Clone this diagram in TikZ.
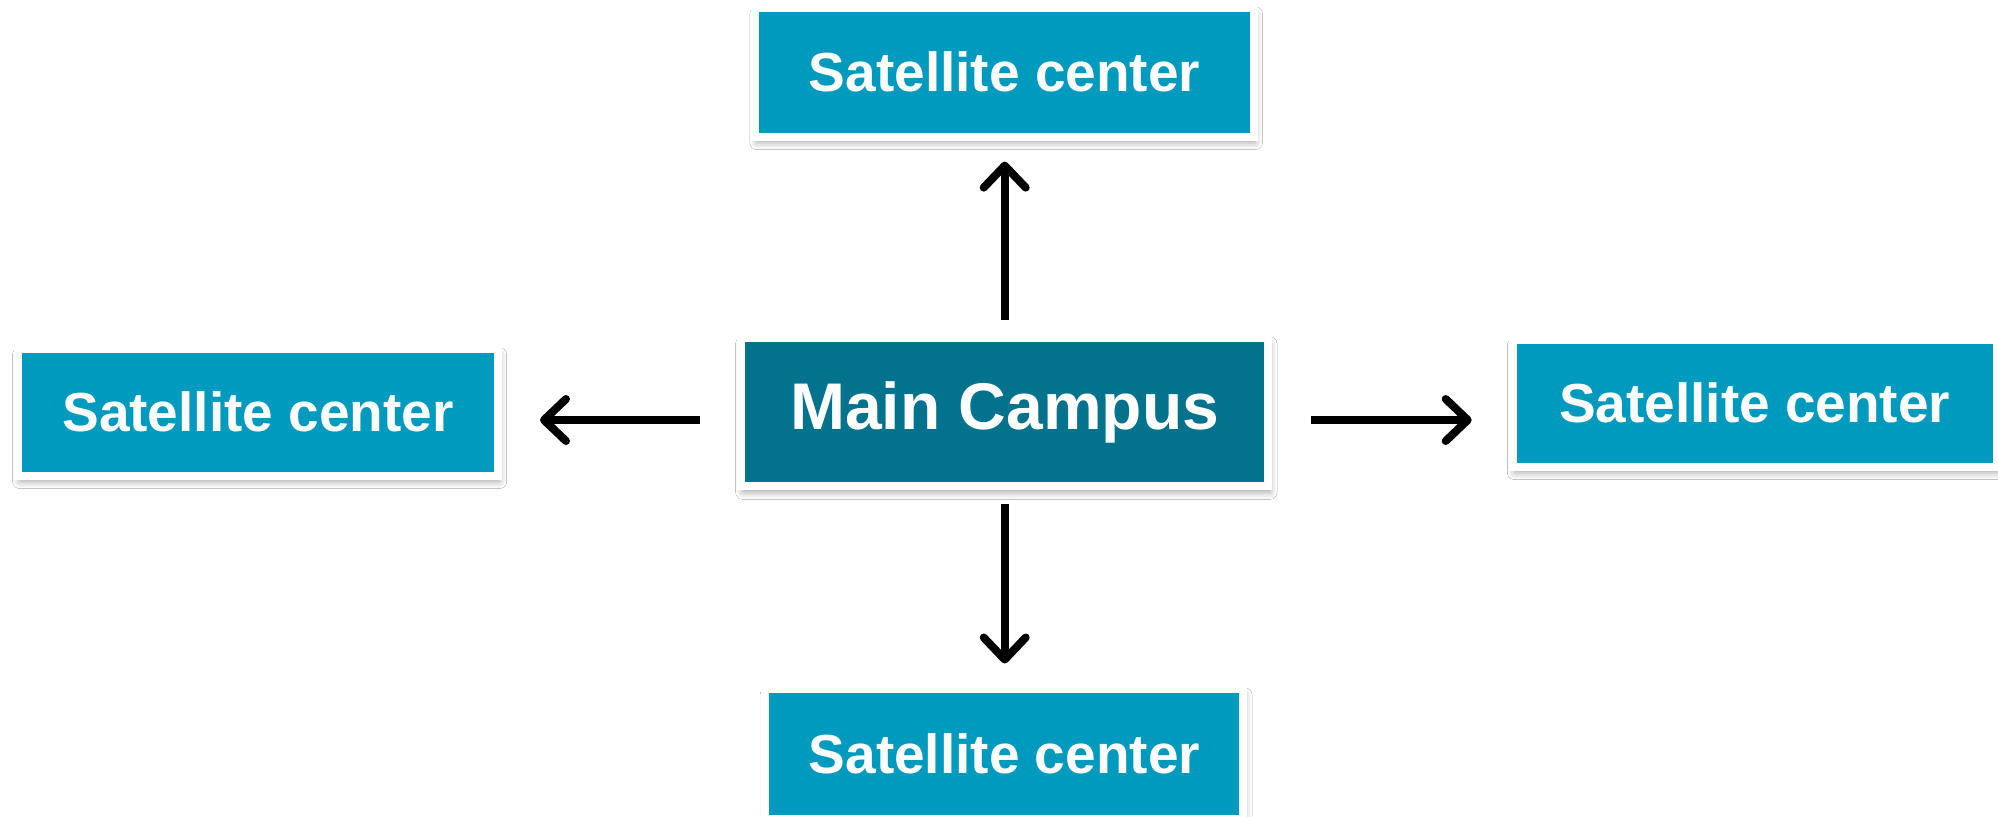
\documentclass[tikz,border=0pt]{standalone}
\usepackage{fontspec}
\setmainfont{Liberation Sans}
\usetikzlibrary{arrows.meta,shadows.blur}
\definecolor{satblue}{HTML}{009ABE}
\definecolor{mainteal}{HTML}{02728D}
\tikzset{
  box/.style={draw=white, line width=4pt, inner sep=0pt, text=white,
    font=\bfseries\fontsize{27.5pt}{30pt}\selectfont,
    blur shadow={shadow xshift=0.8pt, shadow yshift=-3pt, shadow blur radius=3.5pt, shadow opacity=35}},
  satbox/.style={box, fill=satblue},
  mainbox/.style={box, fill=mainteal, font=\bfseries\fontsize{33pt}{36pt}\selectfont},
  arr/.style={line width=4pt, -{Straight Barb[length=11pt, width=21pt, line cap=round, round]}}
}
\begin{document}
\begin{tikzpicture}[x=0.5pt, y=-0.5pt]
\useasboundingbox (0,0) rectangle (1998,816);
\fill[white] (0,0) rectangle (1998,816);
\node[satbox, minimum width=249.3pt, minimum height=64.4pt] (top) at (1004.5,72.2) {Satellite center};
\node[mainbox, minimum width=263.7pt, minimum height=74.3pt] (main) at (1004.7,412) {Main Campus};
\node[satbox, minimum width=240pt, minimum height=63.5pt] (left) at (258,412) {Satellite center};
\node[satbox, minimum width=242pt, minimum height=63.5pt] (right) at (1754.7,403) {Satellite center};
\node[satbox, minimum width=239pt, minimum height=64.9pt] (bottom) at (1004.4,753.8) {Satellite center};
\draw[arr, shorten <=6.9pt, shorten >=10.5pt] (main.north) -- (main.north |- top.south);
\draw[arr, shorten <=6.7pt, shorten >=10.7pt] (main.south) -- (main.south |- bottom.north);
\draw[arr, shorten <=18.5pt, shorten >=19pt] ([yshift=-4pt]main.west) -- ([yshift=-4pt]main.west -| left.east);
\draw[arr, shorten <=19.2pt, shorten >=18.5pt] ([yshift=-4pt]main.east) -- ([yshift=-4pt]main.east -| right.west);
\end{tikzpicture}
\end{document}
